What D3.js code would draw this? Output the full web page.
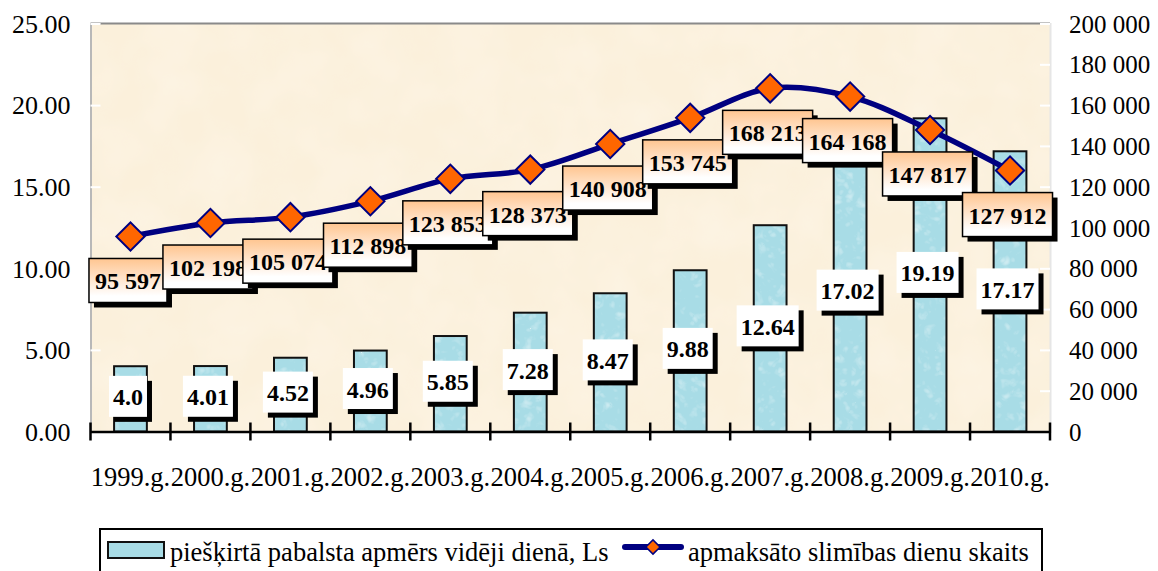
<!DOCTYPE html>
<html>
<head>
<meta charset="utf-8">
<script src="https://cdn.jsdelivr.net/npm/d3@7"></script>
<style>
  body { margin: 0; background: #fff; }
</style>
</head>
<body>
<svg id="chart"></svg>
<script>
// Data
var years = ['1999.g.', '2000.g.', '2001.g.', '2002.g.', '2003.g.', '2004.g.',
             '2005.g.', '2006.g.', '2007.g.', '2008.g.', '2009.g.', '2010.g.'];
var benefit = [4.0, 4.01, 4.52, 4.96, 5.85, 7.28, 8.47, 9.88, 12.64, 17.02, 19.19, 17.17];
var benefitLabels = ['4.0', '4.01', '4.52', '4.96', '5.85', '7.28', '8.47', '9.88', '12.64', '17.02', '19.19', '17.17'];
var sickDays = [95597, 102198, 105074, 112898, 123853, 128373, 140908, 153745, 168213, 164168, 147817, 127912];
var leftTicks = [0, 5, 10, 15, 20, 25];
var rightTicks = [0, 20000, 40000, 60000, 80000, 100000, 120000, 140000, 160000, 180000, 200000];
var legendNames = ['piešķirtā pabalsta apmērs vidēji dienā, Ls', 'apmaksāto slimības dienu skaits'];

// Measurements
var width = 1158;
var height = 571;
var plotLeft = 90.5, plotRight = 1050, plotTop = 23.5, plotBottom = 431.5;
var font = 'Liberation Serif';

var svg = d3.select('#chart')
    .attr('width', width)
    .attr('height', height)
    .style('font-family', font);

var defs = svg.append('defs');

// gradient for line labels
var grad = defs.append('linearGradient')
    .attr('id', 'lblGrad')
    .attr('x1', 0).attr('y1', 0).attr('x2', 0).attr('y2', 1);
grad.append('stop').attr('offset', '0%').attr('stop-color', '#FFC590');
grad.append('stop').attr('offset', '85%').attr('stop-color', '#FFFFFF');

// parchment texture for plot background
var bgTex = defs.append('filter').attr('id', 'bgTex')
    .attr('x', 0).attr('y', 0).attr('width', 1).attr('height', 1);
bgTex.append('feTurbulence').attr('type', 'fractalNoise')
    .attr('baseFrequency', 0.02).attr('numOctaves', 3).attr('seed', 4);
bgTex.append('feColorMatrix').attr('type', 'matrix')
    .attr('values', '0 0 0 0 1  0 0 0 0 0.96  0 0 0 0 0.9  0.5 0 0 0 -0.15');
bgTex.append('feComposite').attr('in2', 'SourceGraphic').attr('operator', 'in');

// water texture for bars
var barTex = defs.append('filter').attr('id', 'barTex')
    .attr('x', 0).attr('y', 0).attr('width', 1).attr('height', 1);
barTex.append('feTurbulence').attr('type', 'turbulence')
    .attr('baseFrequency', 0.09).attr('numOctaves', 2).attr('seed', 7);
barTex.append('feColorMatrix').attr('type', 'matrix')
    .attr('values', '0 0 0 0 1  0 0 0 0 1  0 0 0 0 1  0.9 0 0 0 -0.25');
barTex.append('feComposite').attr('in2', 'SourceGraphic').attr('operator', 'in');

// Scales
var xScale = d3.scaleBand()
    .domain(years)
    .range([plotLeft, plotRight])
    .padding(0);

var yLeft = d3.scaleLinear()
    .domain([0, 25])
    .range([plotBottom, plotTop]);

var yRight = d3.scaleLinear()
    .domain([0, 200000])
    .range([plotBottom, plotTop]);

var barWidth = xScale.bandwidth() * 0.41;
var cx = function(i) { return xScale(years[i]) + xScale.bandwidth() / 2; };

// Plot area
svg.append('rect')
    .attr('x', plotLeft).attr('y', plotTop)
    .attr('width', plotRight - plotLeft).attr('height', plotBottom - plotTop)
    .attr('fill', '#FBF0DB');
svg.append('rect')
    .attr('x', plotLeft).attr('y', plotTop)
    .attr('width', plotRight - plotLeft).attr('height', plotBottom - plotTop)
    .attr('fill', '#FBF0DB')
    .attr('filter', 'url(#bgTex)');

// frame: top gray
svg.append('line')
    .attr('x1', plotLeft).attr('x2', plotRight).attr('y1', plotTop).attr('y2', plotTop)
    .attr('stroke', '#8a8a8a').attr('stroke-width', 2);

// y-Axis left
var yAxisL = d3.axisLeft(yLeft)
    .tickValues(leftTicks)
    .tickFormat(d3.format('.2f'))
    .tickSize(-10)
    .tickPadding(20);
var gL = svg.append('g')
    .attr('transform', 'translate(' + plotLeft + ',0)')
    .call(yAxisL);
gL.select('.domain').attr('stroke', '#b8b8b8').attr('stroke-width', 2);
gL.selectAll('.tick line').attr('stroke', '#ffffff').attr('stroke-width', 2);
gL.selectAll('.tick text')
    .attr('fill', '#000')
    .style('font-family', font)
    .style('font-size', '26px')
    .attr('dy', '0.34em');

// y-Axis right
var yAxisR = d3.axisRight(yRight)
    .tickValues(rightTicks)
    .tickFormat(function(d) { return d3.format(',')(d).replace(/,/g, ' '); })
    .tickSize(-10)
    .tickPadding(19);
var gR = svg.append('g')
    .attr('transform', 'translate(' + plotRight + ',0)')
    .call(yAxisR);
gR.select('.domain').attr('stroke', '#e6e6e6').attr('stroke-width', 2);
gR.selectAll('.tick line').attr('stroke', '#ffffff').attr('stroke-width', 2);
gR.selectAll('.tick text')
    .attr('fill', '#000')
    .style('font-family', font)
    .style('font-size', '25px')
    .attr('dy', '0.34em');

// Bars
var bars = svg.append('g');
['fill', 'tex', 'edge'].forEach(function(layer) {
    bars.selectAll('rect.' + layer)
        .data(benefit)
        .enter()
        .append('rect')
            .attr('class', layer)
            .attr('x', function(d, i) { return cx(i) - barWidth / 2; })
            .attr('y', function(d) { return yLeft(d); })
            .attr('width', barWidth)
            .attr('height', function(d) { return plotBottom - yLeft(d); })
            .attr('fill', layer === 'edge' ? 'none' : '#A8DCE6')
            .attr('filter', layer === 'tex' ? 'url(#barTex)' : null)
            .attr('stroke', layer === 'edge' ? '#111' : null)
            .attr('stroke-width', 2);
});

// x-Axis
var xAxis = d3.axisBottom(xScale)
    .tickSize(0)
    .tickPadding(36);
var gX = svg.append('g')
    .attr('transform', 'translate(0,' + plotBottom + ')')
    .call(xAxis);
gX.select('.domain').attr('stroke', '#000').attr('stroke-width', 2.5);
gX.selectAll('.tick text')
    .attr('fill', '#000')
    .style('font-family', font)
    .style('font-size', '26.5px');
// category boundary ticks
gX.selectAll('line.sep')
    .data(years.concat(['end']))
    .enter()
    .append('line')
        .attr('class', 'sep')
        .attr('x1', function(d, i) { return i < years.length ? xScale(d) : plotRight; })
        .attr('x2', function(d, i) { return i < years.length ? xScale(d) : plotRight; })
        .attr('y1', -9).attr('y2', 9)
        .attr('stroke', '#000').attr('stroke-width', 2.5);

// Bar labels
var barLbl = svg.append('g').selectAll('g')
    .data(benefit)
    .enter()
    .append('g')
        .attr('transform', function(d, i) {
            return 'translate(' + (cx(i) - 2.5) + ',' + ((yLeft(d) + plotBottom) / 2 - 2.5) + ')';
        });
barLbl.each(function(d, i) {
    var g = d3.select(this);
    var shadow = g.append('rect');
    var box = g.append('rect');
    var t = g.append('text')
        .text(benefitLabels[i])
        .attr('text-anchor', 'middle')
        .attr('y', 9)
        .style('font-family', font)
        .style('font-size', '24px')
        .style('font-weight', 'bold');
    var w = t.node().getComputedTextLength() + 8;
    var h = 41;
    shadow.attr('x', -w / 2 + 5).attr('y', -h / 2 + 5)
        .attr('width', w).attr('height', h).attr('fill', '#000');
    box.attr('x', -w / 2).attr('y', -h / 2)
        .attr('width', w).attr('height', h).attr('fill', '#fff');
});

// Line
var line = d3.line()
    .x(function(d, i) { return cx(i); })
    .y(function(d) { return yRight(d); })
    .curve(d3.curveCatmullRom.alpha(0.5));

svg.append('path')
    .datum(sickDays)
    .attr('d', line)
    .attr('fill', 'none')
    .attr('stroke', '#000080')
    .attr('stroke-width', 5.5);

var diamond = d3.symbol().type(d3.symbolSquare).size(400);
svg.append('g').selectAll('path')
    .data(sickDays)
    .enter()
    .append('path')
        .attr('d', diamond)
        .attr('transform', function(d, i) {
            return 'translate(' + cx(i) + ',' + yRight(d) + ') rotate(45)';
        })
        .attr('fill', '#FF6600')
        .attr('stroke', '#000080')
        .attr('stroke-width', 2);

// Line labels
var lineLbl = svg.append('g').selectAll('g')
    .data(sickDays)
    .enter()
    .append('g')
        .attr('transform', function(d, i) {
            return 'translate(' + (cx(i) - 2.5) + ',' + (yRight(d) + 44) + ')';
        });
lineLbl.each(function(d) {
    var g = d3.select(this);
    var shadow = g.append('rect');
    var box = g.append('rect');
    var t = g.append('text')
        .text(d3.format(',')(d).replace(/,/g, ' '))
        .attr('text-anchor', 'middle')
        .attr('y', 9)
        .style('font-family', font)
        .style('font-size', '24px')
        .style('font-weight', 'bold');
    var w = t.node().getComputedTextLength() + 12;
    var h = 44;
    shadow.attr('x', -w / 2 + 5).attr('y', -h / 2 + 5)
        .attr('width', w).attr('height', h).attr('fill', '#000');
    box.attr('x', -w / 2).attr('y', -h / 2)
        .attr('width', w).attr('height', h)
        .attr('fill', 'url(#lblGrad)')
        .attr('stroke', '#000').attr('stroke-width', 1.5);
});

// Legend
var legend = svg.append('g');
legend.append('rect')
    .attr('x', 100).attr('y', 529)
    .attr('width', 942).attr('height', 80)
    .attr('fill', '#fff')
    .attr('stroke', '#000').attr('stroke-width', 2);
legend.append('rect')
    .attr('x', 108).attr('y', 542)
    .attr('width', 56).attr('height', 16)
    .attr('fill', '#A8DCE6')
    .attr('stroke', '#111').attr('stroke-width', 2);
legend.append('text')
    .attr('x', 170).attr('y', 561)
    .style('font-family', font)
    .style('font-size', '26.5px')
    .text(legendNames[0]);
legend.append('line')
    .attr('x1', 625).attr('x2', 681).attr('y1', 547).attr('y2', 547)
    .attr('stroke', '#000080').attr('stroke-width', 6)
    .attr('stroke-linecap', 'round');
legend.append('path')
    .attr('d', d3.symbol().type(d3.symbolSquare).size(100))
    .attr('transform', 'translate(653,547) rotate(45)')
    .attr('fill', '#FF6600')
    .attr('stroke', '#000080').attr('stroke-width', 1.5);
legend.append('text')
    .attr('x', 688).attr('y', 561)
    .style('font-family', font)
    .style('font-size', '26.5px')
    .text(legendNames[1]);
</script>
</body>
</html>
